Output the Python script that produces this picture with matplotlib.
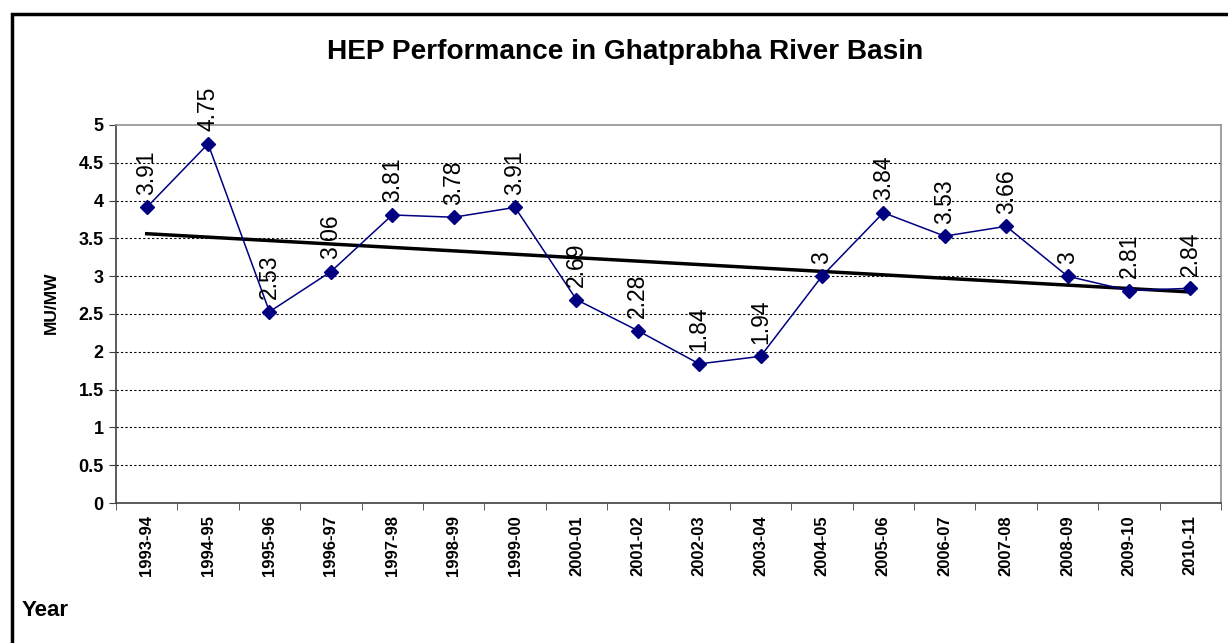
import numpy as np
import matplotlib.pyplot as plt
from matplotlib.patches import Rectangle

plt.rcParams['font.family'] = ['Liberation Sans', 'DejaVu Sans']

years = ['1993-94', '1994-95', '1995-96', '1996-97', '1997-98', '1998-99',
         '1999-00', '2000-01', '2001-02', '2002-03', '2003-04', '2004-05',
         '2005-06', '2006-07', '2007-08', '2008-09', '2009-10', '2010-11']
mu_mw = [3.91, 4.75, 2.53, 3.06, 3.81, 3.78, 3.91, 2.69, 2.28, 1.84,
         1.94, 3, 3.84, 3.53, 3.66, 3, 2.81, 2.84]
labels = ['3.91', '4.75', '2.53', '3.06', '3.81', '3.78', '3.91', '2.69', '2.28',
          '1.84', '1.94', '3', '3.84', '3.53', '3.66', '3', '2.81', '2.84']

fig = plt.figure(figsize=(12.28, 6.43), dpi=100)
# outer chart frame (Excel style)
fig.patches.append(Rectangle((12 / 1228, -0.1), 1.2, (643 - 14) / 643 + 0.1,
                             transform=fig.transFigure, fill=False,
                             edgecolor='black', linewidth=2.5))

ax = fig.add_axes([116 / 1228, 140 / 643, (1221 - 116) / 1228, (503 - 125) / 643])
x = np.arange(len(years))

# linear trend line
k, b = np.polyfit(x, mu_mw, 1)
ax.plot(x, k * x + b, color='black', linewidth=2.5, zorder=2)

ax.plot(x, mu_mw, color='#000080', linewidth=1.1, marker='D', markersize=7,
        markerfacecolor='#000080', markeredgecolor='#000080', zorder=3)

for xi, yi, t in zip(x, mu_mw, labels):
    ax.annotate(t, (xi, yi), xytext=(0, 9), textcoords='offset points',
                rotation=90, ha='center', va='bottom', fontsize=16.5)

ax.set_xlim(-0.5, len(years) - 0.5)
ax.set_ylim(0, 5)
ax.set_yticks(np.arange(0, 5.01, 0.5))
ax.set_yticklabels(['0', '0.5', '1', '1.5', '2', '2.5', '3', '3.5', '4', '4.5', '5'],
                   fontsize=13, fontweight='bold')
ax.set_xticks(x)
ax.set_xticklabels(years, rotation=90, fontsize=12, fontweight='bold')
ax.set_xticks(np.arange(-0.5, len(years), 1), minor=True)
ax.tick_params(axis='x', which='major', length=0, pad=9)
ax.tick_params(axis='x', which='minor', length=5, color='#404040', direction='out')
ax.tick_params(axis='y', length=5, color='#404040', direction='out', pad=4)

for yv in np.arange(0.5, 4.6, 0.5):
    ax.axhline(yv, color='black', linestyle=(0, (2, 2)), linewidth=0.8, zorder=1)

ax.spines['left'].set_color('#404040')
ax.spines['bottom'].set_color('#404040')
ax.spines['top'].set_color('#909090')
ax.spines['right'].set_color('#909090')
for s in ax.spines.values():
    s.set_linewidth(1.2)

ax.set_ylabel('MU/MW', fontsize=12.5, fontweight='bold')
ax.yaxis.set_label_coords(-0.052, 0.53)
fig.text(625 / 1228, 1 - 52 / 643, 'HEP Performance in Ghatprabha River Basin',
         ha='center', va='center', fontsize=20.2, fontweight='bold')
fig.text(22 / 1228, 1 - 610 / 643, 'Year', ha='left', va='center',
         fontsize=16, fontweight='bold')

plt.savefig('out.png', dpi=100)
